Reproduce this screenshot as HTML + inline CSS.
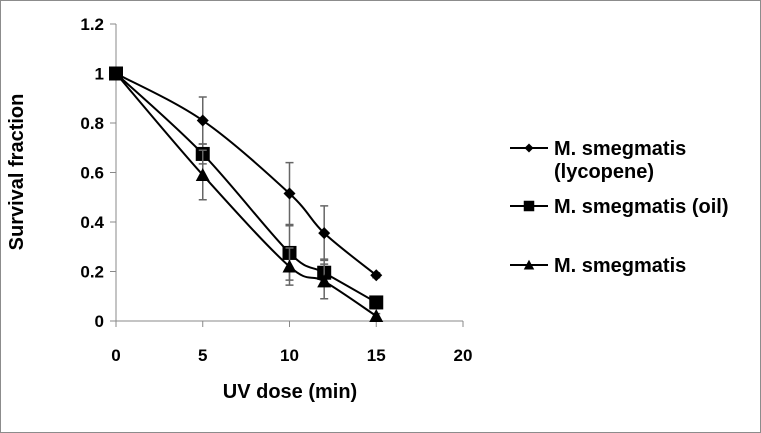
<!DOCTYPE html>
<html><head><meta charset="utf-8"><style>
html,body{margin:0;padding:0;background:#fff}
svg{display:block;font-family:"Liberation Sans",Arial,sans-serif;font-weight:bold}
</style></head><body>
<svg id="chart" width="761" height="433" viewBox="0 0 761 433">
<rect x="0.5" y="0.5" width="760" height="432" fill="#fff" stroke="#8c8c8c"/>
<g id="axes"></g>
<g id="series"></g>
<text x="23" y="172" font-size="20" text-anchor="middle" transform="rotate(-90 23 172)">Survival fraction</text>
<text x="290" y="398" font-size="20" text-anchor="middle">UV dose (min)</text>
<g id="legend"></g>
</svg>
<script>
const xs=[0,5,10,12,15];
const lycopene=[1,0.81,0.515,0.355,0.185];
const lycopeneErr=[0,0.095,0.125,0.11,0.01];
const oil=[1,0.675,0.275,0.195,0.075];
const oilErr=[0,0.04,0.11,0.055,0.025];
const plain=[1,0.59,0.22,0.16,0.02];
const plainErr=[0,0.1,0.075,0.07,0.01];
const xTicks=[0,5,10,15,20];
const yTicks=[0,0.2,0.4,0.6,0.8,1,1.2];
const yLabels=["0","0.2","0.4","0.6","0.8","1","1.2"];
const names=["M. smegmatis|(lycopene)","M. smegmatis (oil)","M. smegmatis"];
const NS="http://www.w3.org/2000/svg";
const X=v=>116+v*17.35, Y=v=>321-v*247.5;
function mk(t,a,p){const e=document.createElementNS(NS,t);for(const k in a)e.setAttribute(k,a[k]);p.appendChild(e);return e;}
const ax=document.getElementById('axes');
let l=mk('line',{x1:116,y1:Y(1.2),x2:116,y2:321,stroke:'#888'},ax);


l=mk('line',{x1:116,y1:321,x2:X(20),y2:321,stroke:'#888'},ax);


yTicks.forEach((v,i)=>{mk('line',{x1:110,x2:116,y1:Y(v),y2:Y(v),stroke:'#888'},ax);
const t=mk('text',{x:104,y:Y(v)+6,'font-size':17,'text-anchor':'end'},ax);t.textContent=yLabels[i];

});
xTicks.forEach(v=>{mk('line',{x1:X(v),x2:X(v),y1:321,y2:327,stroke:'#888'},ax);
const t=mk('text',{x:X(v),y:361,'font-size':17,'text-anchor':'middle'},ax);t.textContent=v;

});
function smooth(p){let d=`M${p[0][0]},${p[0][1]}`;for(let i=0;i<p.length-1;i++){const p0=p[i-1]||p[i],p1=p[i],p2=p[i+1],p3=p[i+2]||p2;const k=1/6;
d+=` C${p1[0]+(p2[0]-p0[0])*k},${p1[1]+(p2[1]-p0[1])*k} ${p2[0]-(p3[0]-p1[0])*k},${p2[1]-(p3[1]-p1[1])*k} ${p2[0]},${p2[1]}`;}return d;}
function marker(kind,x,y,g,s){if(kind==0)return mk('path',{d:`M${x},${y-6*s}L${x+6*s},${y}L${x},${y+6*s}L${x-6*s},${y}Z`,fill:'#000'},g);
if(kind==1)return mk('rect',{x:x-7*s,y:y-7*s,width:14*s,height:14*s,fill:'#000'},g);
return mk('path',{d:`M${x},${y-7*s}L${x+7*s},${y+6*s}L${x-7*s},${y+6*s}Z`,fill:'#000'},g);}
const sg=document.getElementById('series');
[[lycopene,lycopeneErr,'lycopene'],[oil,oilErr,'oil'],[plain,plainErr,'plain']].forEach(([d,e,n],k)=>{
const g=mk('g',{},sg);
xs.forEach((x,i)=>{if(!e[i])return;const cx=X(x),t=Y(d[i]+e[i]),b=Y(d[i]-e[i]);
const eb=mk('path',{d:`M${cx},${t}V${b}M${cx-4},${t}H${cx+4}M${cx-4},${b}H${cx+4}`,stroke:'#666','stroke-width':1.5,fill:'none'},g);

});
const ln=mk('path',{d:smooth(xs.map((x,i)=>[X(x),Y(d[i])])),stroke:'#000','stroke-width':2,fill:'none'},g);


xs.forEach((x,i)=>{const m=marker(k,X(x),Y(d[i]),g,1);

});
});
const lg=document.getElementById('legend');
const rows=[148,206,265];
names.forEach((nm,k)=>{const g=mk('g',{},lg);
const y=rows[k];mk('line',{x1:510,x2:548,y1:y,y2:y,stroke:'#000','stroke-width':2},g);marker(k,529,y,g,0.75);
nm.split('|').forEach((s,j)=>{const t=mk('text',{x:554,y:y+7+j*23,'font-size':20},g);t.textContent=s;});});
</script>
</body></html>
